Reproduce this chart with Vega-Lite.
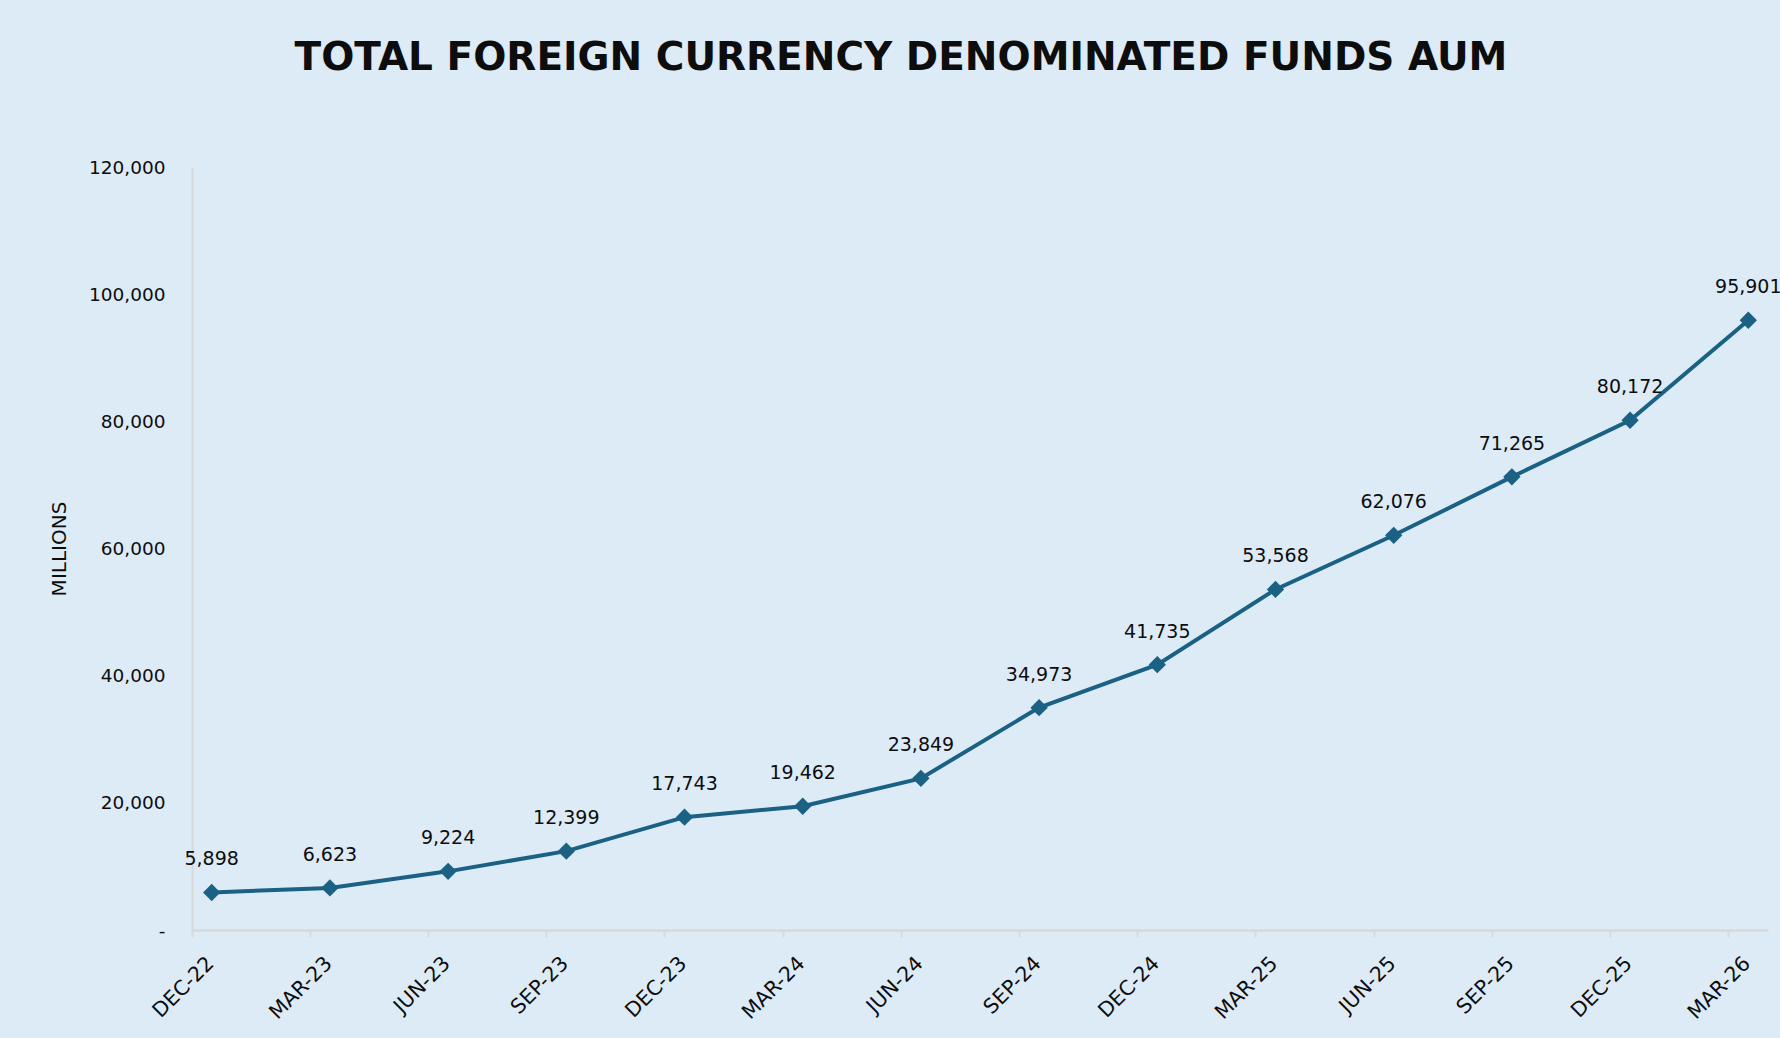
{
  "$schema": "https://vega.github.io/schema/vega-lite/v6.json",
  "width": 1576,
  "height": 763,
  "autosize": {"type": "none"},
  "padding": {"left": 192, "top": 167, "right": 12, "bottom": 108},
  "background": "#DDEBF7",
  "title": {
    "text": "TOTAL FOREIGN CURRENCY DENOMINATED FUNDS AUM",
    "font": "DejaVu Sans",
    "fontSize": 39,
    "fontWeight": "bold",
    "color": "#0D0D0D",
    "anchor": "middle",
    "dx": -79,
    "offset": 80
  },
  "config": {"view": {"stroke": null}, "font": "DejaVu Sans"},
  "data": {
    "values": [
      {"quarter": "DEC-22", "aum": 5898},
      {"quarter": "MAR-23", "aum": 6623},
      {"quarter": "JUN-23", "aum": 9224},
      {"quarter": "SEP-23", "aum": 12399},
      {"quarter": "DEC-23", "aum": 17743},
      {"quarter": "MAR-24", "aum": 19462},
      {"quarter": "JUN-24", "aum": 23849},
      {"quarter": "SEP-24", "aum": 34973},
      {"quarter": "DEC-24", "aum": 41735},
      {"quarter": "MAR-25", "aum": 53568},
      {"quarter": "JUN-25", "aum": 62076},
      {"quarter": "SEP-25", "aum": 71265},
      {"quarter": "DEC-25", "aum": 80172},
      {"quarter": "MAR-26", "aum": 95901}
    ]
  },
  "encoding": {
    "x": {
      "field": "quarter",
      "type": "ordinal",
      "sort": null,
      "scale": {"type": "band", "paddingInner": 0.6667, "paddingOuter": 0, "align": 0},
      "axis": {
        "title": null,
        "bandPosition": 0,
        "labelOffset": -1,
        "labelAngle": -45,
        "labelAlign": "right",
        "labelBaseline": "middle",
        "labelFontSize": 20.5,
        "labelPadding": 23,
        "labelColor": "#0D0D0D",
        "tickSize": 7,
        "tickWidth": 2,
        "tickColor": "#D9D9D9",
        "domainColor": "#D9D9D9",
        "domainWidth": 2.5,
        "grid": false
      }
    },
    "y": {
      "field": "aum",
      "type": "quantitative",
      "scale": {"domain": [0, 120000]},
      "axis": {
        "values": [0, 20000, 40000, 60000, 80000, 100000, 120000],
        "labelExpr": "datum.value == 0 ? '-\u00a0\u00a0' : format(datum.value, ',')",
        "labelFontSize": 18.5,
        "labelPadding": 27,
        "labelColor": "#0D0D0D",
        "ticks": false,
        "grid": false,
        "domainColor": "#D9D9D9",
        "domainWidth": 2,
        "title": "MILLIONS",
        "titleFontSize": 20,
        "titleFontWeight": "normal",
        "titleColor": "#0D0D0D",
        "titleAngle": -90,
        "titleX": -133,
        "titleY": 381.5,
        "titleAlign": "center",
        "titleBaseline": "middle"
      }
    }
  },
  "layer": [
    {"mark": {"type": "line", "color": "#1A6184", "strokeWidth": 4}},
    {"mark": {"type": "point", "shape": "diamond", "filled": true, "size": 300, "color": "#1A6184", "opacity": 1}},
    {
      "mark": {"type": "text", "dy": -33, "fontSize": 19, "color": "#0D0D0D"},
      "encoding": {"text": {"field": "aum", "type": "quantitative", "format": ","}}
    }
  ]
}
